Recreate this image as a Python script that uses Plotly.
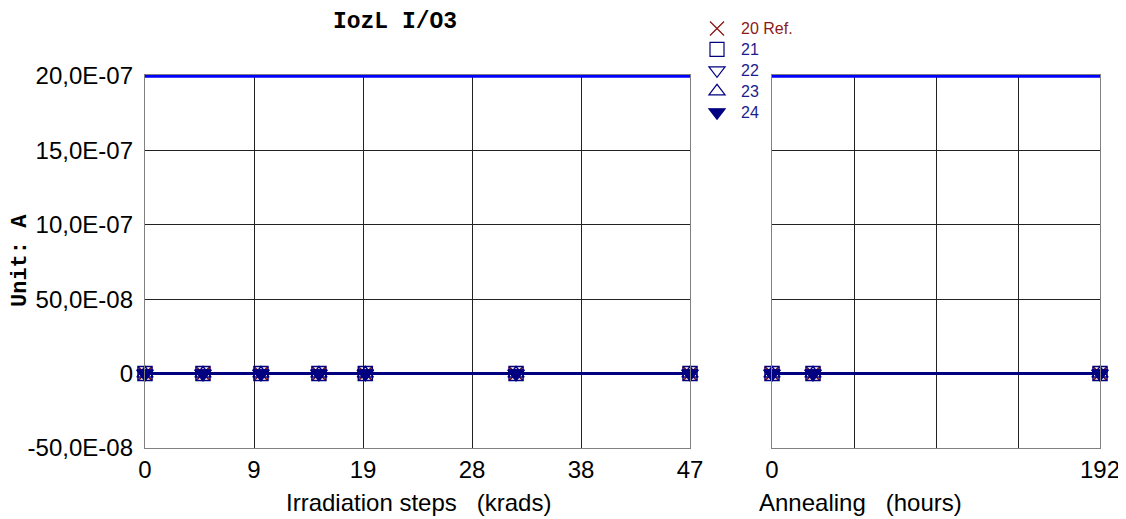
import plotly.graph_objects as go

# ---- data ----
irr_steps = [0, 5, 10, 15, 19, 32, 47]          # krads
ann_steps = [0, 24, 192]                         # hours
series_names = ["20 Ref.", "21", "22", "23", "24"]
irr_values = {
    "20 Ref.": [0, 0, 0, 0, 0, 0, 0],
    "21": [0, 0, 0, 0, 0, 0, 0],
    "22": [0, 0, 0, 0, 0, 0, 0],
    "23": [0, 0, 0, 0, 0, 0, 0],
    "24": [0, 0, 0, 0, 0, 0, 0],
}
ann_values = {
    "20 Ref.": [0, 0, 0],
    "21": [0, 0, 0],
    "22": [0, 0, 0],
    "23": [0, 0, 0],
    "24": [0, 0, 0],
}
limit_value = 2.0e-6
irr_range = [0, 47]
ann_range = [0, 192]
y_tickvals = [-5e-7, 0, 5e-7, 1e-6, 1.5e-6, 2e-6]
y_ticktext = ["-50,0E-08", "0", "50,0E-08", "10,0E-07", "15,0E-07", "20,0E-07"]
irr_tickvals = [0, 9.4, 18.8, 28.2, 37.6, 47]
irr_ticktext = ["0", "9", "19", "28", "38", "47"]
ann_tickvals = [0, 48, 96, 144, 192]
ann_ticktext = ["0", "", "", "", "192"]

# ---- styles ----
NAVY = "#000080"
RED = "#8B1010"
symbols = {"20 Ref.": "x-thin-open", "21": "square-open", "22": "triangle-down-open",
           "23": "triangle-up-open", "24": "triangle-down"}
mcolors = {"20 Ref.": RED, "21": NAVY, "22": NAVY, "23": NAVY, "24": NAVY}
tcolors = {"20 Ref.": "#8B1A1A", "21": "#1C1C8C", "22": "#1C1C8C", "23": "#1C1C8C", "24": "#1C1C8C"}

W, H = 1126, 519
OX, OY = 8, 8  # page body offset


def fx(p):
    return (p - OX) / W


def fy(p):
    return 1 - (p - OY) / H


fig = go.Figure()

# limit lines (left one on the overlay axis that carries the tick labels)
fig.add_trace(go.Scatter(x=irr_range, y=[limit_value] * 2, mode="lines",
                         line=dict(color="#0000FF", width=3.5), showlegend=False,
                         xaxis="x", yaxis="y3"))
fig.add_trace(go.Scatter(x=ann_range, y=[limit_value] * 2, mode="lines",
                         line=dict(color="#0000FF", width=3.5), showlegend=False,
                         xaxis="x2", yaxis="y2"))

for name in series_names:
    mk = dict(symbol=symbols[name], size=14, color=mcolors[name],
              line=dict(color=mcolors[name], width=1.5))
    fig.add_trace(go.Scatter(x=irr_steps, y=irr_values[name], mode="lines+markers",
                             line=dict(color=NAVY, width=2.5), marker=mk,
                             showlegend=False, cliponaxis=False, xaxis="x", yaxis="y"))
    fig.add_trace(go.Scatter(x=ann_steps, y=ann_values[name], mode="lines+markers",
                             line=dict(color=NAVY, width=2.5), marker=mk,
                             showlegend=False, cliponaxis=False, xaxis="x2", yaxis="y2"))
    # legend entry (markers only)
    fig.add_trace(go.Scatter(x=[None], y=[None], mode="markers",
                             marker=dict(symbol=symbols[name], size=14, color=mcolors[name],
                                         line=dict(color=mcolors[name], width=1.2)),
                             name=f'<span style="color:{tcolors[name]};font-size:16px">{name}</span>',
                             xaxis="x", yaxis="y"))

px_per = 372 / 2.5e-6
y_top = limit_value + 1.5 / px_per
y_range = [-5e-7, y_top]
ydom = [fy(448), fy(76 - 1.5)]

axis_common = dict(showgrid=True, gridcolor="#222222", gridwidth=1, showline=True,
                   linecolor="#808080", linewidth=1, mirror=True, ticks="",
                   zeroline=False, automargin=False)
xfont = dict(family="Liberation Sans, Arial", size=24, color="black")
yfont = dict(family="Liberation Sans, Arial", size=24, color="black")

fig.update_layout(
    width=W, height=H,
    margin=dict(l=0, r=0, t=0, b=0, autoexpand=False),
    paper_bgcolor="white", plot_bgcolor="white",
    xaxis=dict(domain=[fx(145), fx(690)], range=irr_range, tickmode="array",
               tickvals=irr_tickvals, ticktext=irr_ticktext, anchor="y",
               tickfont=xfont, **axis_common),
    xaxis2=dict(domain=[fx(772), fx(1100)], range=ann_range, tickmode="array",
                tickvals=ann_tickvals, ticktext=ann_ticktext, anchor="y2",
                tickfont=xfont, **axis_common),
    yaxis=dict(domain=ydom, range=y_range, tickmode="array",
               tickvals=y_tickvals, anchor="x", showticklabels=False, **axis_common),
    yaxis2=dict(domain=ydom, range=y_range, tickmode="array",
                tickvals=y_tickvals, anchor="x2", showticklabels=False, **axis_common),
    yaxis3=dict(overlaying="y", anchor="free", position=fx(133), side="left",
                range=y_range, tickmode="array", tickvals=y_tickvals, ticktext=y_ticktext,
                showgrid=False, showline=False, zeroline=False, ticks="",
                automargin=False, tickfont=yfont),
    legend=dict(x=fx(717 - 24), y=fy(13), xanchor="left", yanchor="top",
                font=dict(family="Liberation Sans, Arial", size=13.8),
                bgcolor="rgba(0,0,0,0)", tracegroupgap=0, itemwidth=38),
    title=dict(text="<b>IozL I/O3</b>", x=fx(395), xanchor="center",
               yref="container", y=fy(20), yanchor="middle",
               font=dict(family="Liberation Mono, Courier New", size=23, color="black")),
    annotations=[
        dict(text="<b>Unit: A</b>", xref="paper", yref="paper", x=fx(20), y=fy(261),
             textangle=-90, showarrow=False, xanchor="center", yanchor="middle",
             font=dict(family="Liberation Mono, Courier New", size=22, color="black")),
        dict(text="Irradiation steps&nbsp;&nbsp;&nbsp;(krads)", xref="paper", yref="paper",
             x=fx(418), y=fy(502), showarrow=False, xanchor="center", yanchor="middle",
             font=dict(family="Liberation Sans, Arial", size=24, color="black")),
        dict(text="Annealing&nbsp;&nbsp;&nbsp;(hours)", xref="paper", yref="paper",
             x=fx(757), y=fy(502), showarrow=False, xanchor="left", yanchor="middle",
             font=dict(family="Liberation Sans, Arial", size=24, color="black")),
    ],
)

fig.write_html("out.html")
